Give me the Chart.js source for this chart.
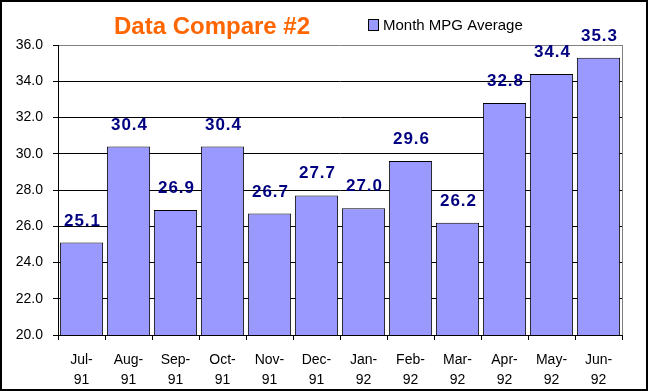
<!DOCTYPE html>
<html>
<head>
<meta charset="utf-8">
<title>Data Compare #2</title>
<script src="https://cdn.jsdelivr.net/npm/chart.js@4/dist/chart.umd.min.js"></script>
<style>
  html, body { margin: 0; padding: 0; background: #fff; }
  #wrap { width: 648px; height: 391px; }
</style>
</head>
<body>
<div id="wrap"><canvas id="mpgChart" width="648" height="391"></canvas></div>
<script>
// datos del grafico
const months = [
  ["Jul-", "91"], ["Aug-", "91"], ["Sep-", "91"], ["Oct-", "91"],
  ["Nov-", "91"], ["Dec-", "91"], ["Jan-", "92"], ["Feb-", "92"],
  ["Mar-", "92"], ["Apr-", "92"], ["May-", "92"], ["Jun-", "92"]
];
const mpgAverage = [25.1, 30.4, 26.9, 30.4, 26.7, 27.7, 27.0, 29.6, 26.2, 32.8, 34.4, 35.3];
const yMin = 20;
const yMax = 36;
const yStep = 2;

const FONT = "Arial, 'Liberation Sans', sans-serif";

// titulo, leyenda, marco y etiquetas de valor
const decorPlugin = {
  id: "decor",
  beforeDraw(chart) {
    const ctx = chart.ctx;
    ctx.save();
    ctx.fillStyle = "#fff";
    ctx.fillRect(0, 0, chart.width, chart.height);
    ctx.restore();
  },
  afterDraw(chart) {
    const ctx = chart.ctx;
    const area = chart.chartArea;
    ctx.save();

    // borde derecho gris del area de trazado
    ctx.strokeStyle = "#808080";
    ctx.lineWidth = 1;
    ctx.beginPath();
    ctx.moveTo(Math.round(area.right) + 0.5, area.top);
    ctx.lineTo(Math.round(area.right) + 0.5, area.bottom);
    ctx.stroke();

    // titulo
    ctx.fillStyle = "#FF6600";
    ctx.font = "bold 24px " + FONT;
    ctx.textAlign = "center";
    ctx.textBaseline = "alphabetic";
    ctx.fillText("Data Compare #2", 212, 34);

    // leyenda
    ctx.fillStyle = "#9999FF";
    ctx.fillRect(368, 19, 10, 11);
    ctx.strokeStyle = "#000";
    ctx.strokeRect(368.5, 19.5, 10, 11);
    ctx.fillStyle = "#000";
    ctx.font = "15px " + FONT;
    ctx.textAlign = "left";
    ctx.fillText("Month MPG Average", 383, 30);

    // etiquetas de valor
    const meta = chart.getDatasetMeta(0);
    ctx.fillStyle = "#000080";
    ctx.font = "bold 17px " + FONT;
    ctx.textAlign = "center";
    ctx.letterSpacing = "1px";
    meta.data.forEach((bar, i) => {
      ctx.fillText(mpgAverage[i].toFixed(1), bar.x + 1, bar.y - 17);
    });

    // marco exterior
    ctx.letterSpacing = "0px";
    ctx.strokeStyle = "#000";
    ctx.lineWidth = 2;
    ctx.strokeRect(1, 1, chart.width - 2, chart.height - 2);
    ctx.restore();
  }
};

new Chart(document.getElementById("mpgChart"), {
  type: "bar",
  data: {
    labels: months,
    datasets: [{
      label: "Month MPG Average",
      data: mpgAverage,
      backgroundColor: "#9999FF",
      borderColor: "#000",
      borderWidth: 1,
      borderSkipped: false,
      barPercentage: 0.92,
      categoryPercentage: 1.0
    }]
  },
  options: {
    responsive: false,
    animation: false,
    devicePixelRatio: 1,
    layout: { padding: { top: 45, right: 26, left: 0, bottom: 0 } },
    plugins: {
      legend: { display: false },
      title: { display: false },
      tooltip: { enabled: false }
    },
    scales: {
      x: {
        offset: true,
        grid: {
          offset: true,
          drawOnChartArea: false,
          color: "#000",
          tickLength: 5
        },
        border: { color: "#000", width: 1 },
        ticks: {
          color: "#000",
          font: { family: FONT, size: 14, lineHeight: 1.45 },
          padding: 10,
          maxRotation: 0,
          autoSkip: false
        },
        afterFit(scale) { scale.height = 56; }
      },
      y: {
        min: yMin,
        max: yMax,
        grid: {
          color: (c) => (c.tick && c.tick.value === yMax ? "#808080" : "#000"),
          tickColor: "#000",
          tickLength: 5
        },
        border: { color: "#000", width: 1 },
        ticks: {
          stepSize: yStep,
          color: "#000",
          font: { family: FONT, size: 14 },
          padding: 10,
          callback: (v) => Number(v).toFixed(1)
        },
        afterFit(scale) { scale.width = 58; }
      }
    }
  },
  plugins: [decorPlugin]
});
</script>
</body>
</html>
